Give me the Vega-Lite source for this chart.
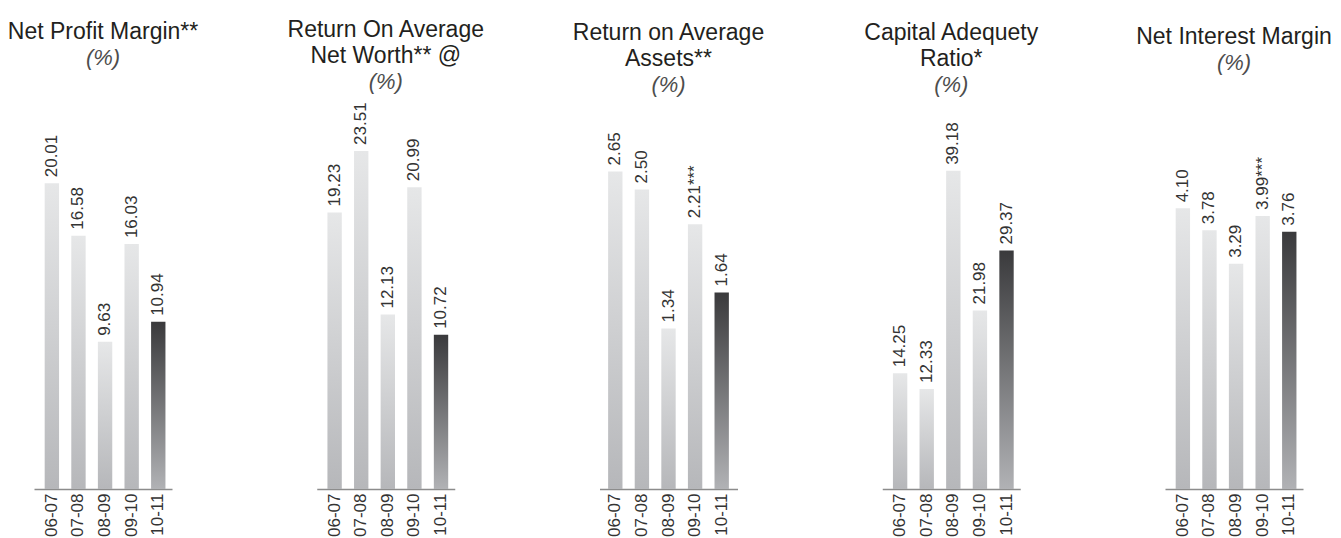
{
  "$schema": "https://vega.github.io/schema/vega-lite/v6.json",
  "autosize": {"type": "pad"},
  "padding": {"left": 7, "top": 19, "right": 5, "bottom": 2},
  "background": "#ffffff",
  "datasets": {
    "npm": [
      {"year": "06-07", "value": 20.01, "label": "20.01"},
      {"year": "07-08", "value": 16.58, "label": "16.58"},
      {"year": "08-09", "value": 9.63, "label": "9.63"},
      {"year": "09-10", "value": 16.03, "label": "16.03"},
      {"year": "10-11", "value": 10.94, "label": "10.94"}
    ],
    "ronw": [
      {"year": "06-07", "value": 19.23, "label": "19.23"},
      {"year": "07-08", "value": 23.51, "label": "23.51"},
      {"year": "08-09", "value": 12.13, "label": "12.13"},
      {"year": "09-10", "value": 20.99, "label": "20.99"},
      {"year": "10-11", "value": 10.72, "label": "10.72"}
    ],
    "roaa": [
      {"year": "06-07", "value": 2.65, "label": "2.65"},
      {"year": "07-08", "value": 2.50, "label": "2.50"},
      {"year": "08-09", "value": 1.34, "label": "1.34"},
      {"year": "09-10", "value": 2.21, "label": "2.21***"},
      {"year": "10-11", "value": 1.64, "label": "1.64"}
    ],
    "car": [
      {"year": "06-07", "value": 14.25, "label": "14.25"},
      {"year": "07-08", "value": 12.33, "label": "12.33"},
      {"year": "08-09", "value": 39.18, "label": "39.18"},
      {"year": "09-10", "value": 21.98, "label": "21.98"},
      {"year": "10-11", "value": 29.37, "label": "29.37"}
    ],
    "nim": [
      {"year": "06-07", "value": 4.10, "label": "4.10"},
      {"year": "07-08", "value": 3.78, "label": "3.78"},
      {"year": "08-09", "value": 3.29, "label": "3.29"},
      {"year": "09-10", "value": 3.99, "label": "3.99***"},
      {"year": "10-11", "value": 3.76, "label": "3.76"}
    ]
  },
  "hconcat": [
    {
      "data": {"name": "npm"},
      "width": 138, "height": 387,
      "title": {"text": ["Net Profit Margin**"], "subtitle": "(%)", "offset": 33},
      "encoding": {
        "x": {"field": "year", "type": "ordinal", "scale": {"paddingInner": 0.46, "paddingOuter": 0.324, "align": 0.62}},
        "y": {"field": "value", "type": "quantitative", "scale": {"domain": [0, 25.33], "nice": false, "zero": true}, "axis": null}
      },
      "layer": [
        {"transform": [{"filter": "datum.year != '10-11'"}], "mark": {"type": "bar", "color": {"gradient": "linear", "x1": 0, "y1": 0, "x2": 0, "y2": 1, "stops": [{"offset": 0, "color": "#e6e7e8"}, {"offset": 1, "color": "#b6b7ba"}]}}},
        {"transform": [{"filter": "datum.year == '10-11'"}], "mark": {"type": "bar", "color": {"gradient": "linear", "x1": 0, "y1": 0, "x2": 0, "y2": 1, "stops": [{"offset": 0, "color": "#3a3a3c"}, {"offset": 1, "color": "#b1b2b5"}]}}},
        {"mark": {"type": "text", "angle": 270, "align": "left", "baseline": "middle", "dx": 6}, "encoding": {"text": {"field": "label"}}}
      ]
    },
    {
      "data": {"name": "ronw"},
      "width": 138, "height": 387,
      "title": {"text": ["Return On Average", "Net Worth** @"], "subtitle": "(%)", "offset": 9},
      "encoding": {
        "x": {"field": "year", "type": "ordinal", "scale": {"paddingInner": 0.46, "paddingOuter": 0.324, "align": 0.62}},
        "y": {"field": "value", "type": "quantitative", "scale": {"domain": [0, 26.91], "nice": false, "zero": true}, "axis": null}
      },
      "layer": [
        {"transform": [{"filter": "datum.year != '10-11'"}], "mark": {"type": "bar", "color": {"gradient": "linear", "x1": 0, "y1": 0, "x2": 0, "y2": 1, "stops": [{"offset": 0, "color": "#e6e7e8"}, {"offset": 1, "color": "#b6b7ba"}]}}},
        {"transform": [{"filter": "datum.year == '10-11'"}], "mark": {"type": "bar", "color": {"gradient": "linear", "x1": 0, "y1": 0, "x2": 0, "y2": 1, "stops": [{"offset": 0, "color": "#3a3a3c"}, {"offset": 1, "color": "#b1b2b5"}]}}},
        {"mark": {"type": "text", "angle": 270, "align": "left", "baseline": "middle", "dx": 6}, "encoding": {"text": {"field": "label"}}}
      ]
    },
    {
      "data": {"name": "roaa"},
      "width": 138, "height": 387,
      "title": {"text": ["Return on Average", "Assets**"], "subtitle": "(%)", "offset": 6},
      "encoding": {
        "x": {"field": "year", "type": "ordinal", "scale": {"paddingInner": 0.46, "paddingOuter": 0.324, "align": 0.5}},
        "y": {"field": "value", "type": "quantitative", "scale": {"domain": [0, 3.23], "nice": false, "zero": true}, "axis": null}
      },
      "layer": [
        {"transform": [{"filter": "datum.year != '10-11'"}], "mark": {"type": "bar", "color": {"gradient": "linear", "x1": 0, "y1": 0, "x2": 0, "y2": 1, "stops": [{"offset": 0, "color": "#e6e7e8"}, {"offset": 1, "color": "#b6b7ba"}]}}},
        {"transform": [{"filter": "datum.year == '10-11'"}], "mark": {"type": "bar", "color": {"gradient": "linear", "x1": 0, "y1": 0, "x2": 0, "y2": 1, "stops": [{"offset": 0, "color": "#3a3a3c"}, {"offset": 1, "color": "#b1b2b5"}]}}},
        {"mark": {"type": "text", "angle": 270, "align": "left", "baseline": "middle", "dx": 6}, "encoding": {"text": {"field": "label"}}}
      ]
    },
    {
      "data": {"name": "car"},
      "width": 138, "height": 387,
      "title": {"text": ["Capital Adequety", "Ratio*"], "subtitle": "(%)", "offset": 6},
      "encoding": {
        "x": {"field": "year", "type": "ordinal", "scale": {"paddingInner": 0.46, "paddingOuter": 0.324, "align": 0.62}},
        "y": {"field": "value", "type": "quantitative", "scale": {"domain": [0, 47.66], "nice": false, "zero": true}, "axis": null}
      },
      "layer": [
        {"transform": [{"filter": "datum.year != '10-11'"}], "mark": {"type": "bar", "color": {"gradient": "linear", "x1": 0, "y1": 0, "x2": 0, "y2": 1, "stops": [{"offset": 0, "color": "#e6e7e8"}, {"offset": 1, "color": "#b6b7ba"}]}}},
        {"transform": [{"filter": "datum.year == '10-11'"}], "mark": {"type": "bar", "color": {"gradient": "linear", "x1": 0, "y1": 0, "x2": 0, "y2": 1, "stops": [{"offset": 0, "color": "#3a3a3c"}, {"offset": 1, "color": "#b1b2b5"}]}}},
        {"mark": {"type": "text", "angle": 270, "align": "left", "baseline": "middle", "dx": 6}, "encoding": {"text": {"field": "label"}}}
      ]
    },
    {
      "data": {"name": "nim"},
      "width": 138, "height": 387,
      "title": {"text": ["Net Interest Margin"], "subtitle": "(%)", "offset": 28},
      "encoding": {
        "x": {"field": "year", "type": "ordinal", "scale": {"paddingInner": 0.46, "paddingOuter": 0.324, "align": 0.62}},
        "y": {"field": "value", "type": "quantitative", "scale": {"domain": [0, 5.654], "nice": false, "zero": true}, "axis": null}
      },
      "layer": [
        {"transform": [{"filter": "datum.year != '10-11'"}], "mark": {"type": "bar", "color": {"gradient": "linear", "x1": 0, "y1": 0, "x2": 0, "y2": 1, "stops": [{"offset": 0, "color": "#e6e7e8"}, {"offset": 1, "color": "#b6b7ba"}]}}},
        {"transform": [{"filter": "datum.year == '10-11'"}], "mark": {"type": "bar", "color": {"gradient": "linear", "x1": 0, "y1": 0, "x2": 0, "y2": 1, "stops": [{"offset": 0, "color": "#3a3a3c"}, {"offset": 1, "color": "#b1b2b5"}]}}},
        {"mark": {"type": "text", "angle": 270, "align": "left", "baseline": "middle", "dx": 6}, "encoding": {"text": {"field": "label"}}}
      ]
    }
  ],
  "spacing": 144.75,
  "bounds": "flush",
  "config": {
    "view": {"stroke": null},
    "font": "Liberation Sans",
    "text": {"font": "Liberation Sans", "fontSize": 17, "color": "#333333"},
    "axisX": {
      "title": null,
      "domainColor": "#8c8c8c",
      "domainWidth": 1.5,
      "ticks": false,
      "grid": false,
      "labelAngle": 270,
      "labelFont": "Liberation Sans",
      "labelFontSize": 17,
      "labelColor": "#333333",
      "labelPadding": 4
    },
    "title": {
      "font": "Liberation Sans",
      "fontSize": 23,
      "fontWeight": "normal",
      "color": "#231f20",
      "lineHeight": 26,
      "subtitleFont": "Liberation Sans",
      "subtitleFontSize": 22,
      "subtitleFontStyle": "italic",
      "subtitleColor": "#4d4d4d",
      "subtitlePadding": 4,
      "anchor": "middle",
      "frame": "group"
    }
  }
}
